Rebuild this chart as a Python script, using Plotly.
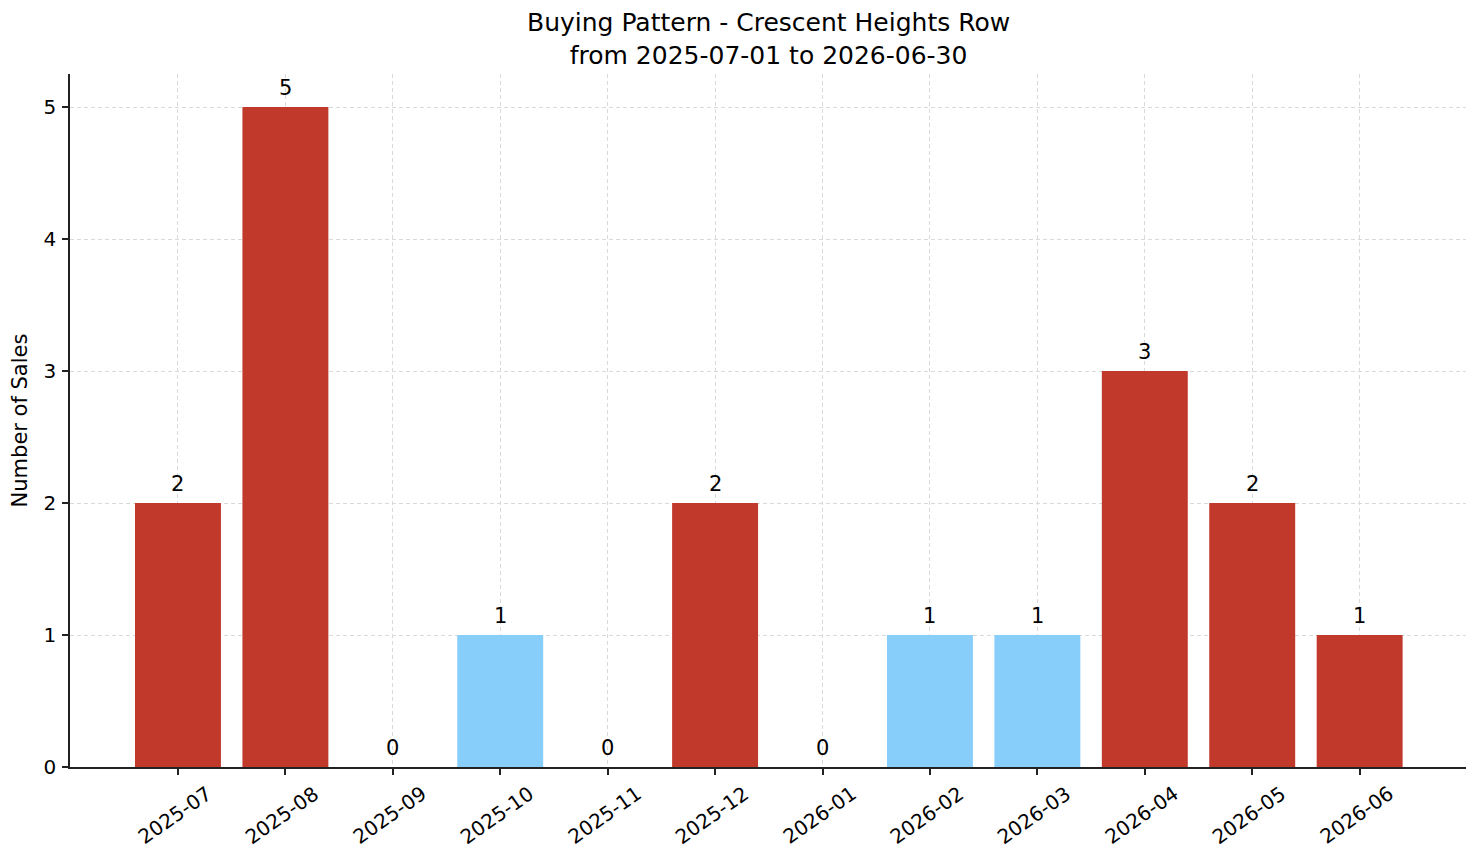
import plotly.graph_objects as go

months = ["2025-07", "2025-08", "2025-09", "2025-10", "2025-11", "2025-12",
          "2026-01", "2026-02", "2026-03", "2026-04", "2026-05", "2026-06"]
sales = [2, 5, 0, 1, 0, 2, 0, 1, 1, 3, 2, 1]
bar_colors = ["#c0392b", "#c0392b", "#c0392b", "#87cefa", "#c0392b", "#c0392b",
              "#c0392b", "#87cefa", "#87cefa", "#c0392b", "#c0392b", "#c0392b"]
title_lines = ["Buying Pattern - Crescent Heights Row", "from 2025-07-01 to 2026-06-30"]

x_idx = list(range(len(months)))
FONT = "DejaVu Sans"

fig = go.Figure()
fig.add_trace(go.Bar(
    x=x_idx, y=sales, width=0.8, marker=dict(color=bar_colors, line=dict(width=0)),
    hoverinfo="skip", showlegend=False,
))

annotations = []
# chart title (two centred lines above the plot area)
annotations.append(dict(
    x=0.5, y=1, xref="paper", yref="paper", text="<br>".join(title_lines),
    showarrow=False, xanchor="center", yanchor="bottom", yshift=2,
    font=dict(family=FONT, size=25, color="black"),
))
# value labels above bars
for xi, v in zip(x_idx, sales):
    annotations.append(dict(
        x=xi, y=v, xref="x", yref="y", text=str(v), showarrow=False,
        xanchor="center", yanchor="bottom", yshift=5,
        font=dict(family=FONT, size=21, color="black"),
    ))
# rotated month labels centered below ticks (matplotlib style)
for xi, m in zip(x_idx, months):
    annotations.append(dict(
        x=xi, y=0, xref="x", yref="paper", text=m, showarrow=False,
        textangle=-35, xanchor="center", yanchor="middle", yshift=-48, xshift=-3,
        font=dict(family=FONT, size=20, color="black"),
    ))

fig.update_layout(
    width=1481, height=863,
    margin=dict(l=70, r=15, t=74, b=96),
    plot_bgcolor="white", paper_bgcolor="white",
    font=dict(family=FONT, color="black"),
    annotations=annotations,
)
fig.update_xaxes(
    range=[-1.005, 11.99], tickmode="array", tickvals=x_idx, showticklabels=False,
    showline=True, linecolor="#222", linewidth=1.5,
    ticks="outside", ticklen=6, tickwidth=1.5, tickcolor="#222",
    showgrid=True, gridcolor="#d9d9d9", griddash="4px,3px", gridwidth=0.8,
    zeroline=False, layer="above traces",
)
fig.update_yaxes(
    range=[0, 5.25], tickmode="array", tickvals=[0, 1, 2, 3, 4, 5],
    tickfont=dict(family=FONT, size=20, color="black"), ticklabelstandoff=2,
    title=dict(text="Number of Sales", font=dict(family=FONT, size=21, color="black"), standoff=10),
    showline=True, linecolor="#222", linewidth=1.5,
    ticks="outside", ticklen=6, tickwidth=1.5, tickcolor="#222",
    showgrid=True, gridcolor="#d9d9d9", griddash="4px,3px", gridwidth=0.8,
    zeroline=False, layer="above traces",
)

fig.write_html("out.html")
